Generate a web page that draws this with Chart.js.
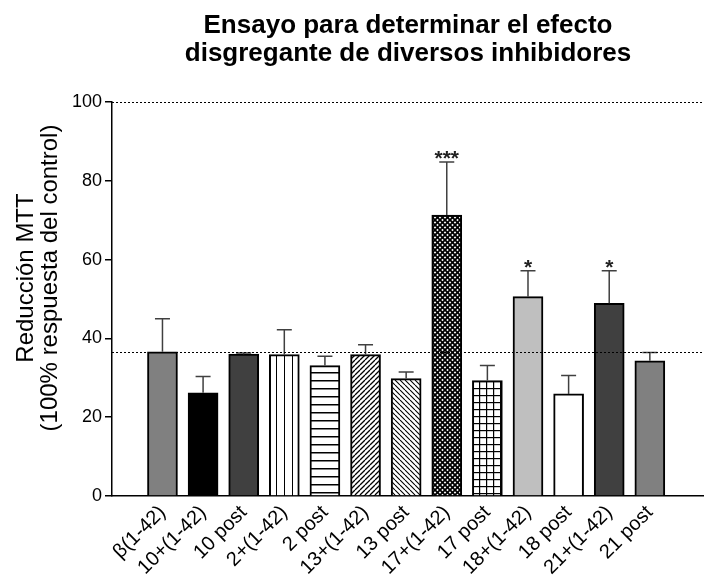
<!DOCTYPE html>
<html>
<head>
<meta charset="utf-8">
<script src="https://cdn.jsdelivr.net/npm/chart.js@4"></script>
<style>
  html, body { margin: 0; padding: 0; background: #fff; }
</style>
</head>
<body>
<canvas id="grafico" width="704" height="578"></canvas>
<script>
// datos
const labels = ['β(1-42)', '10+(1-42)', '10 post', '2+(1-42)', '2 post', '13+(1-42)', '13 post',
                '17+(1-42)', '17 post', '18+(1-42)', '18 post', '21+(1-42)', '21 post'];
const means  = [36.6, 26.2, 36.0, 35.9, 33.1, 35.9, 29.8, 71.3, 29.3, 50.6, 25.9, 48.9, 34.3];
const errors = [8.4, 4.1, 0.3, 6.3, 2.4, 2.5, 1.7, 13.5, 3.8, 6.6, 4.7, 8.3, 2.1];
const stars  = ['', '', '', '', '', '', '', '***', '', '*', '', '*', ''];
const yTicks = [0, 20, 40, 60, 80, 100];
const refLines = [100, 36.6];

const FONT = "'Liberation Sans', Arial, sans-serif";

const canvas = document.getElementById('grafico');
const ctx = canvas.getContext('2d');

// patrones de relleno tipo GraphPad
function pattern(size, draw) {
    const c = document.createElement('canvas');
    c.width = size; c.height = size;
    const g = c.getContext('2d');
    g.fillStyle = '#fff';
    g.fillRect(0, 0, size, size);
    g.fillStyle = '#000';
    g.strokeStyle = '#000';
    draw(g, size);
    return ctx.createPattern(c, 'repeat');
}
function diag(g, s, w, back) {
    g.lineWidth = w;
    g.beginPath();
    for (let k = -1; k <= 1; k++) {
        if (back) { g.moveTo(k * s, 0); g.lineTo(k * s + s, s); }
        else { g.moveTo(k * s, s); g.lineTo(k * s + s, 0); }
    }
    g.stroke();
}

const fills = [
    '#808080',
    '#000000',
    '#404040',
    pattern(8, (g, s) => g.fillRect(4, 0, 1, s)),
    pattern(8, (g, s) => g.fillRect(0, 4, s, 1.5)),
    pattern(5, (g, s) => diag(g, s, 1.3, false)),
    pattern(5, (g, s) => diag(g, s, 1.1, true)),
    pattern(5, (g, s) => { diag(g, s, 1.8, false); diag(g, s, 1.8, true); }),
    pattern(7, (g, s) => { g.fillRect(0, 3, s, 1.2); g.fillRect(3, 0, 1.2, s); }),
    '#bfbfbf',
    '#ffffff',
    '#404040',
    '#808080'
];

// titulo, eje y, barras de error, asteriscos y lineas punteadas
const extras = {
    id: 'extras',
    afterDatasetsDraw(chart) {
        const c = chart.ctx;
        const y = chart.scales.y;
        const area = chart.chartArea;
        const bars = chart.getDatasetMeta(0).data;
        c.save();
        bars.forEach((bar, i) => {
            const yBar = y.getPixelForValue(means[i]);
            const yTop = y.getPixelForValue(means[i] + errors[i]);
            c.strokeStyle = '#404040';
            c.lineWidth = 1.5;
            c.beginPath();
            c.moveTo(bar.x, yBar);
            c.lineTo(bar.x, yTop);
            c.moveTo(bar.x - 7.5, yTop);
            c.lineTo(bar.x + 7.5, yTop);
            c.stroke();
            if (stars[i]) {
                c.fillStyle = '#222';
                c.font = 'bold 21px ' + FONT;
                c.textAlign = 'center';
                c.textBaseline = 'alphabetic';
                c.fillText(stars[i], bar.x, yTop + 3);
            }
        });
        c.strokeStyle = '#000';
        c.lineWidth = 1;
        c.setLineDash([2, 2]);
        refLines.forEach(v => {
            const py = Math.round(y.getPixelForValue(v)) + 0.5;
            c.beginPath();
            c.moveTo(area.left, py);
            c.lineTo(area.right, py);
            c.stroke();
        });
        c.restore();
    },
    afterDraw(chart) {
        const c = chart.ctx;
        const area = chart.chartArea;
        c.save();
        c.fillStyle = '#000';
        c.textAlign = 'center';
        c.textBaseline = 'alphabetic';
        c.font = 'bold 26px ' + FONT;
        const cx = (area.left + area.right) / 2;
        c.fillText('Ensayo para determinar el efecto', cx, 33);
        c.fillText('disgregante de diversos inhibidores', cx, 61);

        c.font = '24px ' + FONT;
        c.translate(0, 278);
        c.rotate(-Math.PI / 2);
        c.fillText('Reducción MTT', 0, 33);
        c.fillText('(100% respuesta del control)', 0, 57);
        c.restore();
    }
};

new Chart(ctx, {
    type: 'bar',
    data: {
        datasets: [{
            data: means.map((v, i) => ({ x: i, y: v })),
            backgroundColor: fills,
            borderColor: '#000',
            borderWidth: 2,
            barThickness: 30
        }]
    },
    options: {
        responsive: false,
        devicePixelRatio: 1,
        animation: false,
        layout: { padding: { top: 102, right: 0, left: 0, bottom: 0 } },
        plugins: {
            legend: { display: false },
            tooltip: { enabled: false },
            title: { display: false }
        },
        scales: {
            x: {
                type: 'linear',
                min: -0.682,
                max: 12.773,
                afterBuildTicks: s => { s.ticks = labels.map((l, i) => ({ value: i })); },
                afterFit: s => { s.height = 82; },
                grid: { display: false, drawTicks: false },
                border: { color: '#000', width: 1.5 },
                ticks: {
                    autoSkip: false,
                    maxRotation: 45,
                    minRotation: 45,
                    padding: 5,
                    color: '#000',
                    font: { family: FONT, size: 20 },
                    callback: v => labels[v]
                }
            },
            y: {
                min: 0,
                max: 100,
                afterBuildTicks: s => { s.ticks = yTicks.map(v => ({ value: v })); },
                afterFit: s => { s.width = 112; },
                grid: { drawOnChartArea: false, drawTicks: true, tickLength: 7, color: '#000', lineWidth: 1.5 },
                border: { color: '#000', width: 1.5 },
                ticks: {
                    padding: 3,
                    color: '#000',
                    font: { family: FONT, size: 18 }
                }
            }
        }
    },
    plugins: [extras]
});
</script>
</body>
</html>
